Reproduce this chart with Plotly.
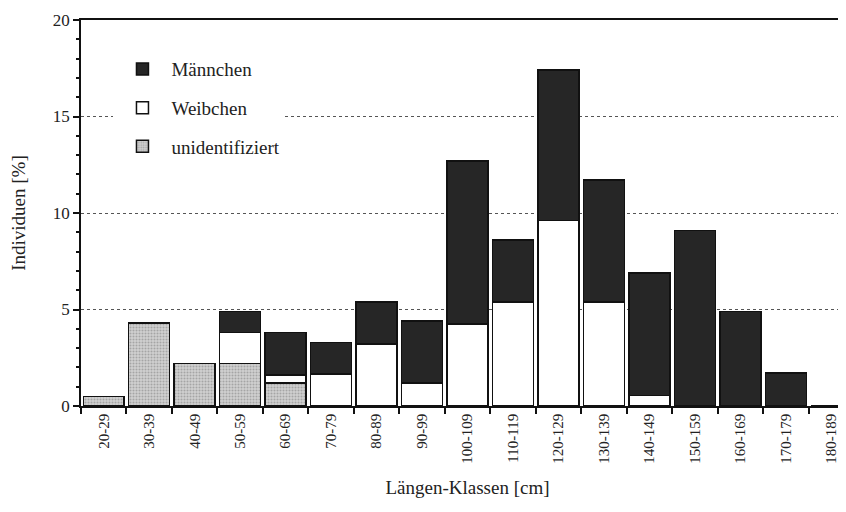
import plotly.graph_objects as go

categories = ["20-29", "30-39", "40-49", "50-59", "60-69", "70-79", "80-89", "90-99",
              "100-109", "110-119", "120-129", "130-139", "140-149", "150-159",
              "160-169", "170-179", "180-189"]
unidentifiziert = [0.5, 4.3, 2.2, 2.2, 1.2, 0, 0, 0, 0, 0, 0, 0, 0, 0, 0, 0, 0]
weibchen = [0, 0, 0, 1.6, 0.4, 1.65, 3.2, 1.2, 4.25, 5.4, 9.6, 5.4, 0.55, 0, 0, 0, 0]
maennchen = [0, 0, 0, 1.1, 2.2, 1.65, 2.2, 3.2, 8.45, 3.2, 7.8, 6.3, 6.35, 9.1, 4.9, 1.7, 0]

FONT = "Liberation Serif"
line = dict(color="#111111", width=1.5)

fig = go.Figure()
fig.add_trace(go.Bar(
    x=categories, y=unidentifiziert, name="unidentifiziert", legendgroup="c", legendrank=3,
    marker=dict(color="#bdbdbd", line=line,
                pattern=dict(shape=".", fgcolor="#777777", bgcolor="#d2d2d2", size=3, solidity=0.4)),
))
fig.add_trace(go.Bar(
    x=categories, y=weibchen, name="Weibchen", legendgroup="b", legendrank=2,
    marker=dict(color="#ffffff", line=line),
))
fig.add_trace(go.Bar(
    x=categories, y=maennchen, name="Männchen", legendgroup="a", legendrank=1,
    marker=dict(color="#262626", line=line),
))

fig.update_layout(
    width=846, height=512,
    barmode="stack", bargap=0.1,
    paper_bgcolor="white", plot_bgcolor="white",
    margin=dict(l=73, r=0, t=12, b=114),
    font=dict(family=FONT, size=15, color="#222222"),
    showlegend=True,
    legend=dict(
        x=0.042, y=0.922, xanchor="left", yanchor="top",
        bgcolor="white", borderwidth=0,
        traceorder="grouped", tracegroupgap=11,
        font=dict(family=FONT, size=19, color="#222222"),
        itemwidth=48,
    ),
    xaxis=dict(
        type="category", range=[-0.5, 16.5],
        showline=True, linecolor="#111111", linewidth=1.5, mirror=True,
        ticks="outside", tickson="boundaries", ticklen=6, tickcolor="#111111", tickwidth=1.5,
        tickangle=-90, tickfont=dict(family=FONT, size=15),
        showgrid=False,
        title=dict(text="Längen-Klassen [cm]", font=dict(family=FONT, size=19), standoff=18),
    ),
    yaxis=dict(
        range=[0, 20], tickvals=[0, 5, 10, 15, 20],
        showline=True, linecolor="#111111", linewidth=1.5,
        ticks="outside", ticklen=6, tickcolor="#111111", tickwidth=1.5,
        minor=dict(dtick=1, ticks="outside", ticklen=3, tickcolor="#111111", showgrid=False),
        showgrid=True, gridcolor="#555555", griddash="dot", gridwidth=1,
        zeroline=False,
        tickfont=dict(family=FONT, size=17),
        title=dict(text="Individuen [%]", font=dict(family=FONT, size=19), standoff=22),
    ),
)

fig.write_html("out.html")
